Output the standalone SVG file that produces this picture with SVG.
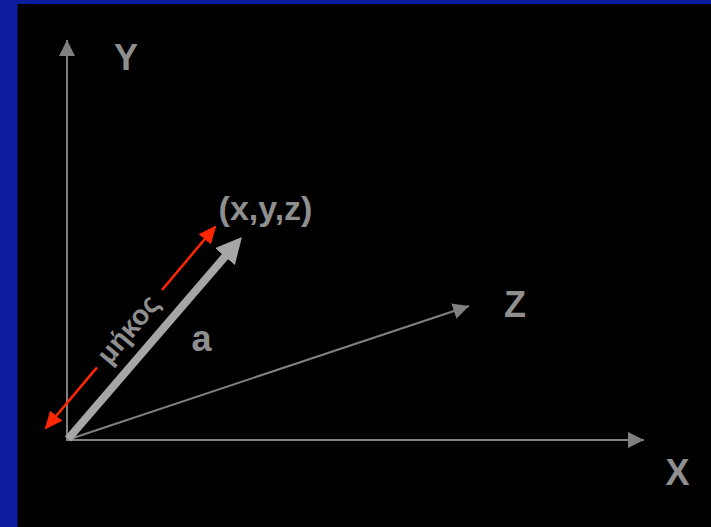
<svg xmlns="http://www.w3.org/2000/svg" width="711" height="527" viewBox="0 0 711 527">
  <style>
    .lbl { font-family: "Liberation Sans", Arial, sans-serif; font-weight: bold; fill: #8f8f8f; text-anchor: middle; }
    .axis { stroke: #808080; stroke-width: 2; fill: none; }
    .len { stroke: #ff2600; stroke-width: 2.5; fill: none; }
    .vec { stroke: #a6a6a6; stroke-width: 8; fill: none; stroke-linecap: butt; }
  </style>
  <defs>
    <marker id="axisHead" markerUnits="userSpaceOnUse" markerWidth="16" markerHeight="16" refX="16" refY="8" orient="auto" viewBox="0 0 16 16">
      <path d="M0,0 L16,8 L0,16 z" fill="#808080"/>
    </marker>
    <marker id="redHead" markerUnits="userSpaceOnUse" markerWidth="18" markerHeight="16" refX="16" refY="8" orient="auto" viewBox="0 0 18 16">
      <path d="M0,0 L18,8 L0,16 z" fill="#ff2600"/>
    </marker>
    <marker id="vecHead" markerUnits="userSpaceOnUse" markerWidth="26" markerHeight="26" refX="6" refY="13" orient="auto" viewBox="0 0 26 26">
      <path d="M0,0 L26,13 L0,26 z" fill="#a6a6a6"/>
    </marker>
  </defs>

  <rect x="0" y="0" width="711" height="527" fill="#0b1c9c"/>
  <rect x="17.5" y="4" width="693.5" height="523" fill="#000000"/>

  <g id="connectors">
    <line id="axis-y" class="axis" x1="67" y1="441" x2="67" y2="40" marker-end="url(#axisHead)"/>
    <line id="axis-x" class="axis" x1="66" y1="440" x2="644" y2="440" marker-end="url(#axisHead)"/>
    <line id="axis-z" class="axis" x1="67" y1="440" x2="469" y2="306" marker-end="url(#axisHead)"/>
    <line id="vector-a" class="vec" x1="68" y1="439" x2="228.9" y2="252.1" marker-end="url(#vecHead)"/>
    <line id="length-lower" class="len" x1="97" y1="367.4" x2="46" y2="428" marker-end="url(#redHead)"/>
    <line id="length-upper" class="len" x1="162" y1="290" x2="215" y2="227" marker-end="url(#redHead)"/>
  </g>

  <g id="label-y"><text class="lbl" x="126" y="70" font-size="36">Y</text></g>
  <g id="label-x"><text class="lbl" x="677.5" y="485" font-size="36">X</text></g>
  <g id="label-z"><text class="lbl" x="515" y="317" font-size="36">Z</text></g>
  <g id="label-point"><text class="lbl" x="265.5" y="220" font-size="34">(x,y,z)</text></g>
  <g id="label-a"><text class="lbl" x="201.5" y="351" font-size="36">a</text></g>
  <g id="label-length"><text class="lbl" x="0" y="0" font-size="28" dominant-baseline="central" transform="translate(128,329) rotate(-50)">μήκος</text></g>
</svg>
